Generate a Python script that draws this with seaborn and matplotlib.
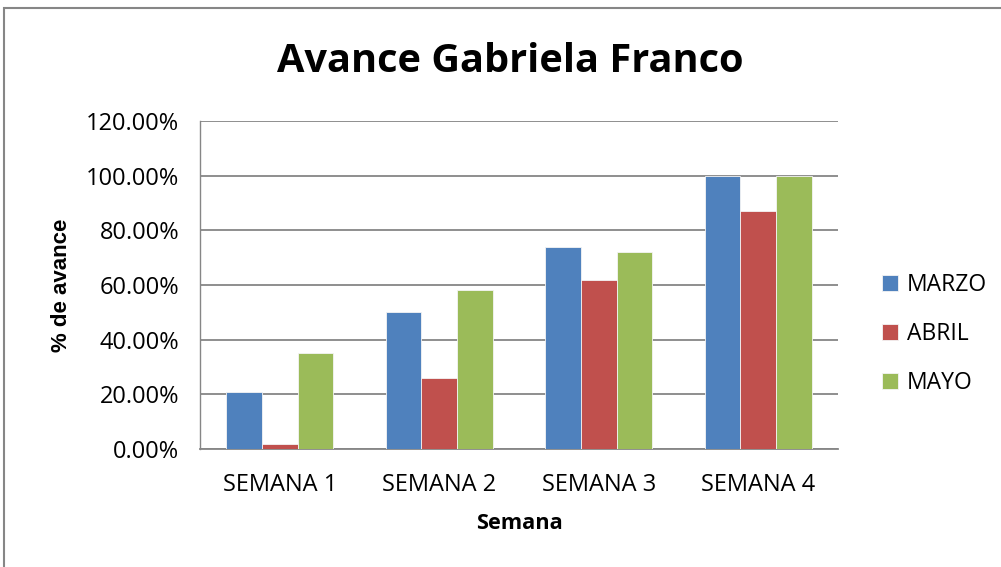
import matplotlib
matplotlib.use("Agg")
import matplotlib.pyplot as plt
from matplotlib.patches import Rectangle
from matplotlib.ticker import FuncFormatter, MultipleLocator
import pandas as pd
import seaborn as sns

semanas = ["SEMANA 1", "SEMANA 2", "SEMANA 3", "SEMANA 4"]
meses = ["MARZO", "ABRIL", "MAYO"]
marzo = [0.21, 0.50, 0.74, 1.00]
abril = [0.02, 0.26, 0.62, 0.87]
mayo = [0.35, 0.58, 0.72, 1.00]
colores = ["#4F81BD", "#C0504D", "#9BBB59"]

df = pd.DataFrame({
    "Semana": semanas * 3,
    "Mes": [m for m in meses for _ in semanas],
    "Avance": marzo + abril + mayo,
})

sns.set_style("white")
plt.rcParams["font.family"] = ["Open Sans", "DejaVu Sans"]
plt.rcParams["text.color"] = "black"
plt.rcParams["xtick.color"] = "black"
plt.rcParams["ytick.color"] = "black"
plt.rcParams["axes.labelcolor"] = "black"

fig = plt.figure(figsize=(10.01, 5.67), dpi=100)
ax = fig.add_axes([200 / 1001, 1 - 449 / 567, 638 / 1001, 328 / 567])

sns.barplot(data=df, x="Semana", y="Avance", hue="Mes", order=semanas,
            hue_order=meses, palette=colores, width=0.67, saturation=1,
            edgecolor="#f4f4f4", linewidth=0.6, ax=ax, zorder=3)

ax.set_ylim(0, 1.2)
ax.yaxis.set_major_locator(MultipleLocator(0.2))
ax.yaxis.set_major_formatter(FuncFormatter(lambda v, _: f"{v * 100:.2f}%"))
ax.grid(axis="y", color="#868686", linewidth=1.3, zorder=0)
ax.set_axisbelow(True)
for s in ("top", "right"):
    ax.spines[s].set_visible(False)
ax.spines["left"].set_color("#868686")
ax.spines["left"].set_linewidth(1.0)
ax.spines["bottom"].set_color("#868686")
ax.spines["bottom"].set_linewidth(1.3)
ax.tick_params(axis="y", which="major", direction="out", length=5, width=1,
               color="#868686", labelsize=17, pad=10)
ax.tick_params(axis="x", length=0, labelsize=17, pad=17)
for lab in ax.get_yticklabels():
    lab.set_color("black")

ax.set_xlabel("Semana", fontsize=15.7, fontweight="bold", labelpad=12)
ax.set_ylabel("% de avance", fontsize=16, fontweight="bold", labelpad=10,
              family=["Liberation Sans", "DejaVu Sans"])

fig.text(510 / 1001, 1 - 62 / 567, "Avance Gabriela Franco", ha="center",
         va="center", fontsize=28.6, fontweight="bold")

leg = ax.legend(loc="center left", bbox_to_anchor=(1.036, 0.35), frameon=False,
                fontsize=16.5, handlelength=0.7, handleheight=0.7,
                handletextpad=0.4, labelspacing=1.08, title=None)

# outer chart frame
fig.patches.append(Rectangle((4 / 1001, -0.05), 1.1, 1 - 8 / 567 + 0.05,
                             transform=fig.transFigure, fill=False,
                             edgecolor="#868686", linewidth=1.5))

fig.savefig("out.png", dpi=100)
